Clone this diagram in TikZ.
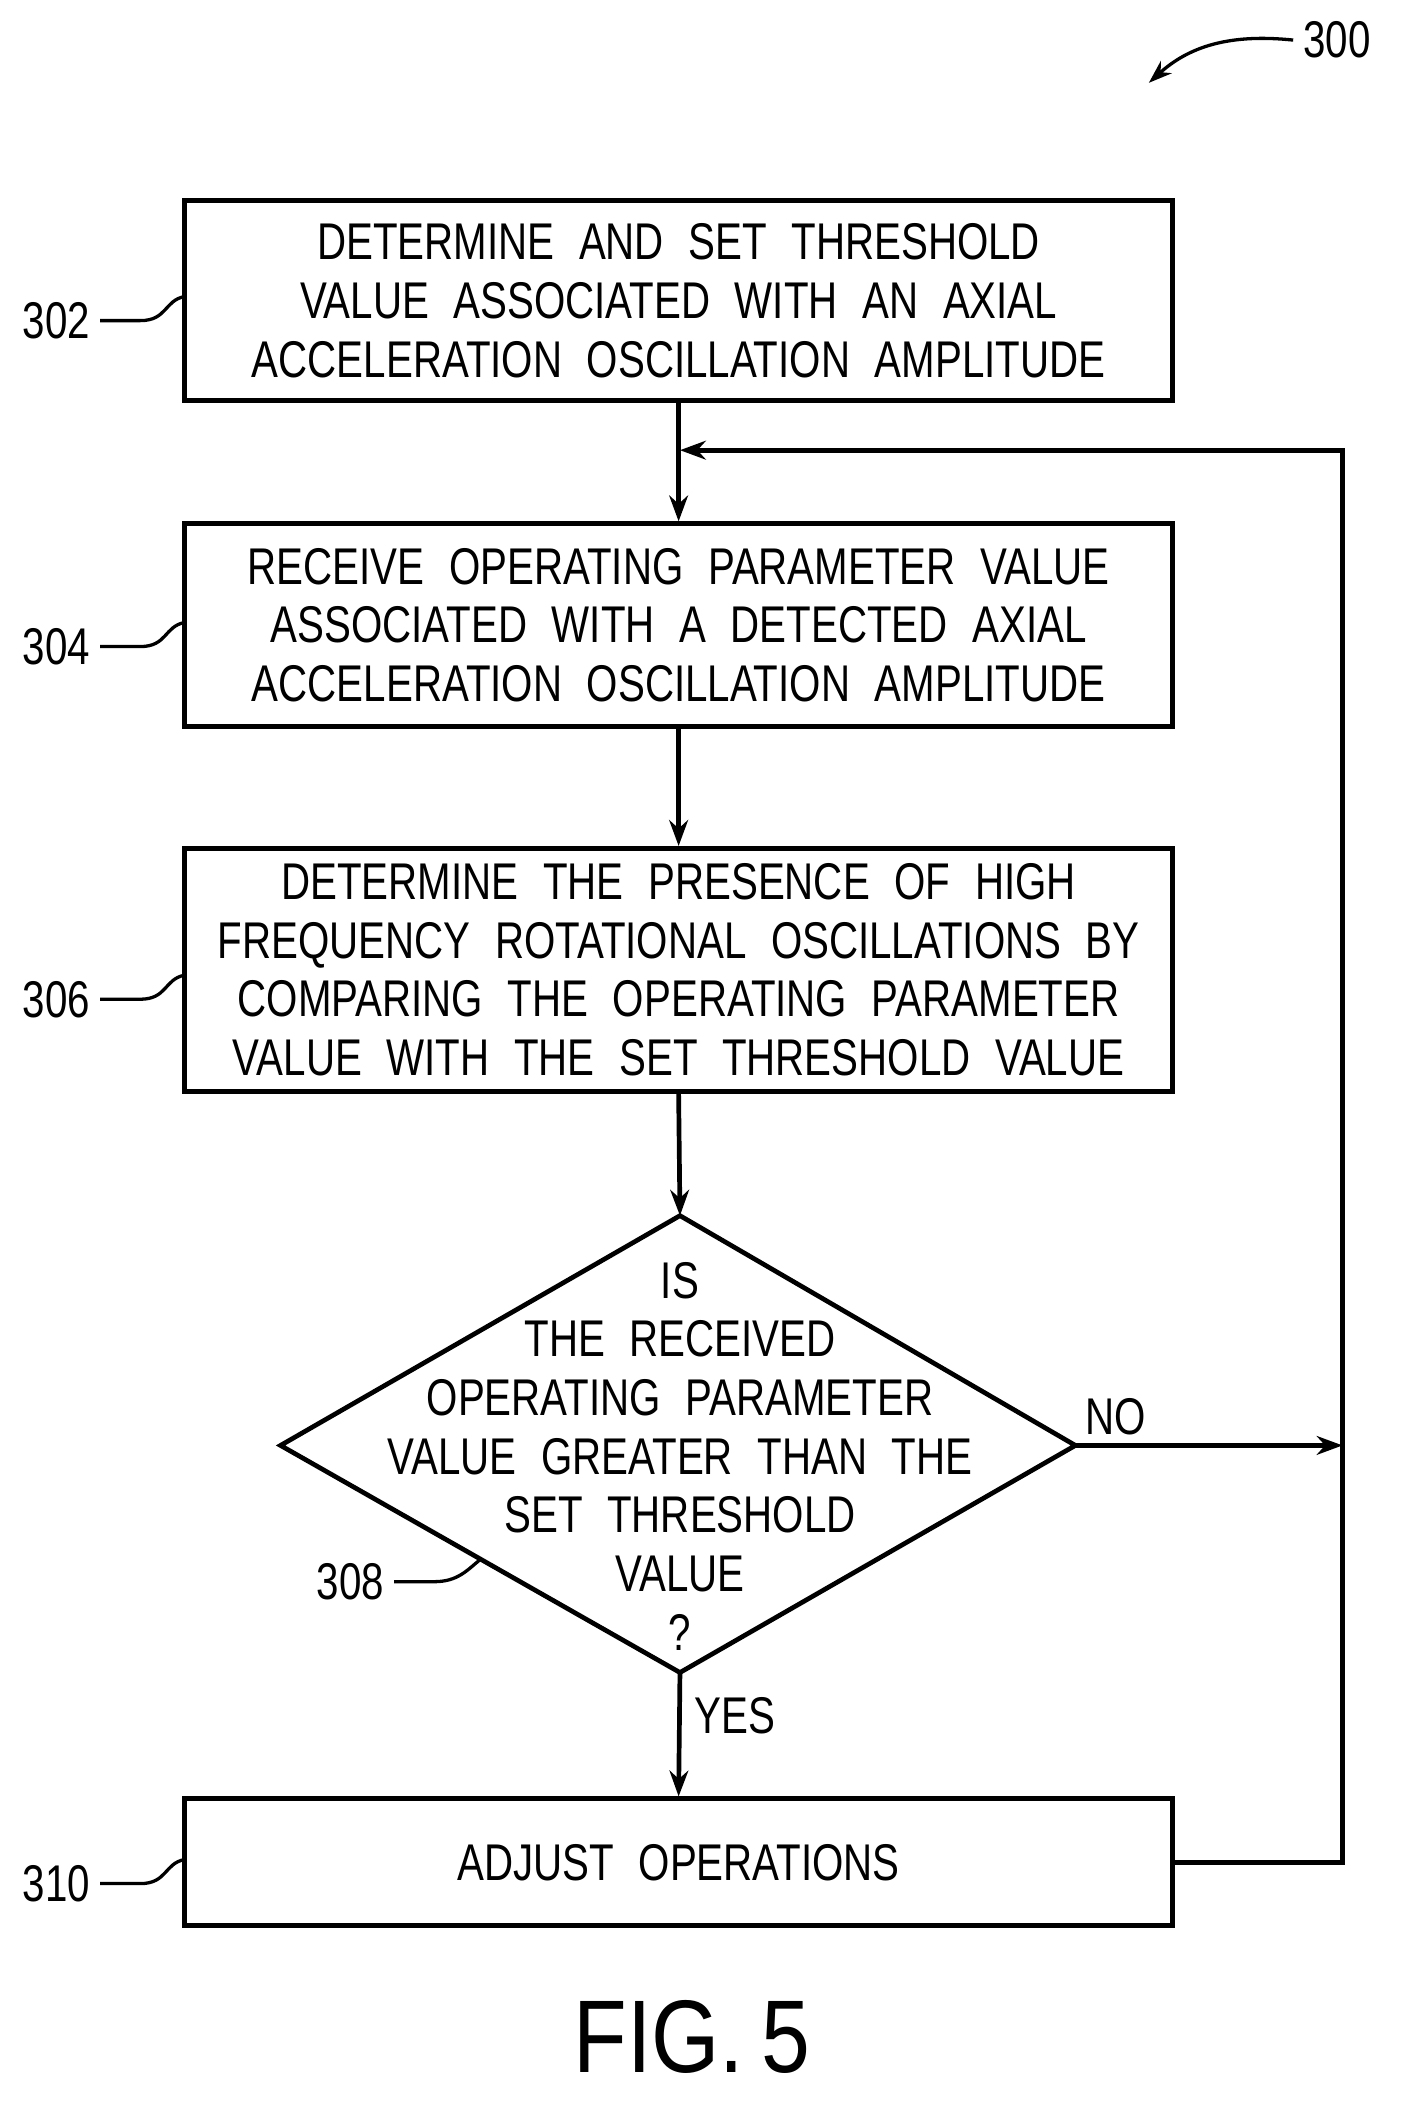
\documentclass[tikz,border=0pt]{standalone}
\usepackage{fontspec}
\setmainfont{Liberation Sans}[FakeStretch=0.78,WordSpace=2.2]
\newfontfamily\figfont{Liberation Sans}[FakeStretch=0.85]
\usetikzlibrary{arrows.meta,calc}

\begin{document}
\begin{tikzpicture}[x=0.02cm,y=-0.02cm,line width=2pt,
  box/.style={draw,minimum width=14.8cm,align=center,font=\fontsize{22}{25}\selectfont},
  lbl/.style={font=\fontsize{22}{25}\selectfont},
  flow/.style={-{Stealth[length=11pt,width=8pt]}},
  lead/.style={line width=1.4pt}]
\useasboundingbox (0,0) rectangle (1050,1575);

% boxes
\node[box,minimum height=3cm] (set) at (508,225) {DETERMINE AND SET THRESHOLD\\VALUE ASSOCIATED WITH AN AXIAL\\ACCELERATION OSCILLATION AMPLITUDE};
\node[box,minimum height=3.04cm] (recv) at (508,468) {RECEIVE OPERATING PARAMETER VALUE\\ASSOCIATED WITH A DETECTED AXIAL\\ACCELERATION OSCILLATION AMPLITUDE};
\node[box,minimum height=3.64cm] (comp) at (508,726) {DETERMINE THE PRESENCE OF HIGH\\FREQUENCY ROTATIONAL OSCILLATIONS BY\\COMPARING THE OPERATING PARAMETER\\VALUE WITH THE SET THRESHOLD VALUE};
\node[box,minimum height=1.9cm] (adj) at (508,1394) {ADJUST OPERATIONS};

% decision
\coordinate (dtop) at (509,910);
\coordinate (dbot) at (509,1252);
\coordinate (dleft) at (210,1082);
\coordinate (dright) at (805,1082);
\draw (dtop) -- (dright) -- (dbot) -- (dleft) -- cycle;
\node[lbl,align=center] (ask) at (509,1090) {IS\\THE RECEIVED\\OPERATING PARAMETER\\VALUE GREATER THAN THE\\SET THRESHOLD\\VALUE\\?};

% connectors
\coordinate (join) at (509,337);
\coordinate (loop) at (1005,337);
\coordinate (nohit) at (1005,1082);
\draw[flow] (set.south) -- (recv.north);
\draw[flow] (recv.south) -- (comp.north);
\draw[flow] (comp.south) -- (dtop);
\draw[flow] (dbot) -- node[lbl,right,pos=0.35,xshift=2pt] (yes) {YES} (adj.north);
\draw[flow] (dright) -- node[lbl,above,pos=0.15] (no) {NO} (nohit);
\draw[flow] (adj.east) -| (loop) -- (join);

% reference numerals
\foreach \n/\y in {302/240,304/484,306/748,310/1410}{
  \node[lbl,anchor=east] (r\n) at (75,\y) {\n};
  \draw[lead] (r\n.east) -- ++(30,0) .. controls +(20,0) and +(-15,3) .. (138,\y-18);
}
\node[lbl,anchor=east] (r308) at (295,1184) {308};
\draw[lead] (r308.east) -- ++(30,0) .. controls +(18,0) and +(-10,8) .. (360,1167);
\node[lbl,anchor=west] (r300) at (968,30) {300};
\draw[lead,-{Stealth[length=10pt,width=7pt]}] (r300.west) .. controls (920,25) and (890,35) .. (860,62);

\node[font=\figfont\fontsize{44}{50}\selectfont] (fig) at (518,1525) {FIG.\,5};
\end{tikzpicture}
\end{document}
